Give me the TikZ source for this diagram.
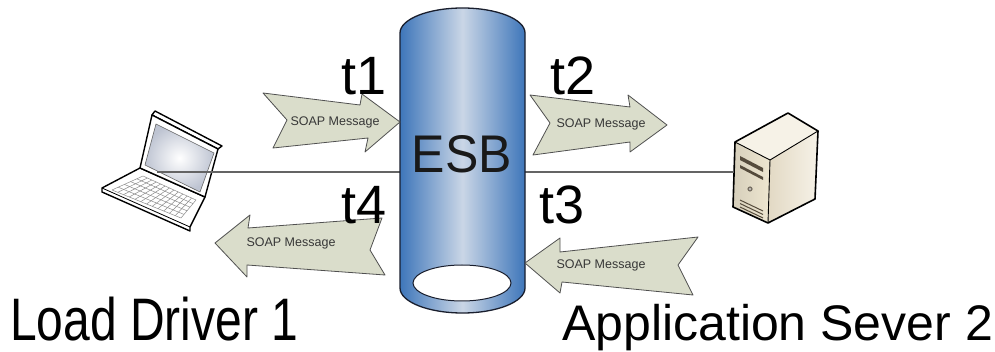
\documentclass[tikz,border=0pt]{standalone}
\usepackage{fontspec}
\setmainfont{Liberation Sans}
\usepackage{graphicx}
\usetikzlibrary{calc}

\definecolor{esbedge}{RGB}{62,118,186}
\definecolor{esbmid}{RGB}{202,214,230}
\definecolor{esbline}{RGB}{25,30,45}
\definecolor{msgfill}{RGB}{218,221,203}
\definecolor{msgline}{RGB}{80,80,80}
\definecolor{msgtext}{RGB}{55,55,55}
\definecolor{connc}{RGB}{100,100,100}
\definecolor{scr}{RGB}{190,196,210}
\definecolor{srvfront}{RGB}{238,230,208}
\definecolor{srvtop}{RGB}{246,242,231}
\definecolor{srvside}{RGB}{226,217,196}
\definecolor{srvslot}{RGB}{85,75,60}

\begin{document}
\begin{tikzpicture}[x=1pt,y=-1pt,
  msg/.style={draw=msgline, line width=0.8pt, fill=msgfill, line join=round},
  msgtext/.style={font=\fontsize{12.5}{13}\selectfont, text=msgtext, inner sep=0pt},
  tlabel/.style={font=\fontsize{54}{54}\selectfont, anchor=base west, inner sep=0pt},
  biglabel/.style={anchor=base west, inner sep=0pt},
  conn/.style={draw=connc, line width=1.5pt},
  outline/.style={draw=black, line width=1.4pt, line join=round},
  keyline/.style={draw=black!45, line width=0.5pt}]

\useasboundingbox (0,0) rectangle (995,352);
\fill[white] (0,0) rectangle (995,352);

% ---------- laptop ----------
\coordinate (P1) at (102,188);
\coordinate (P2) at (140,168);
\coordinate (P3) at (205,197);
\coordinate (P4) at (190,227);
\draw[outline, fill=white] (P1) -- (P2) -- (P3) -- (P4) -- (190,231) -- (102,192) -- cycle;
\draw[draw=black, line width=0.8pt] (P1) -- (P4);
\coordinate (K1) at (112,190);
\coordinate (K2) at (143,176);
\coordinate (K3) at (196,200);
\coordinate (K4) at (181,218);
\foreach \i in {0,...,5}
  \draw[keyline] ($(K1)!\i/5!(K2)$) -- ($(K4)!\i/5!(K3)$);
\foreach \j in {0,...,12}
  \draw[keyline] ($(K1)!\j/12!(K4)$) -- ($(K2)!\j/12!(K3)$);
% lid
\draw[outline, fill=white] (152,115) -- (155,111) -- (222,146) -- (218,149) -- cycle;
\draw[outline, fill=white] (152,115) -- (218,149) -- (205,197) -- (140,168) -- cycle;
\shade[inner color=white, outer color=scr, draw=black!60, line width=0.6pt]
  (156,124) -- (214,153) -- (200,192) -- (145,165) -- cycle;
\coordinate (lap) at (157,172);

% ---------- server ----------
\fill[srvtop] (735,142) -- (788,113) -- (818,131) -- (770,160) -- cycle;
\shade[left color=srvside, right color=srvtop] (770,160) -- (818,131) -- (815,199) -- (768,223) -- cycle;
\shade[left color=srvfront!90!black, right color=srvfront] (735,142) -- (770,160) -- (768,223) -- (733,207) -- cycle;
\draw[outline, line width=1.6pt] (735,142) -- (788,113) -- (818,131) -- (815,199) -- (768,223) -- (733,207) -- cycle;
\draw[draw=black, line width=0.9pt] (735,142) -- (770,160) -- (818,131);
\draw[draw=black, line width=0.9pt] (770,160) -- (768,223);
\fill[srvslot] (740,156) -- (763,168) -- (763,172) -- (740,160) -- cycle;
\fill[srvslot] (740,165) -- (763,177) -- (763,180) -- (740,168) -- cycle;
\fill[srvslot!80] (750,189) circle[radius=2.6];
\fill[white] (750,189) circle[radius=0.9];
\foreach \k in {0,1,2}
  \draw[draw=srvslot, line width=1pt] (740,{200+3.5*\k}) -- (763,{211+3.5*\k});
\coordinate (srv) at (734,172);

% ---------- connectors ----------
\coordinate (esbW) at (400,172);
\coordinate (esbE) at (525,172);
\draw[conn] (lap) -- (esbW);
\draw[conn] (esbE) -- (srv);

% ---------- ESB cylinder ----------
\shade[left color=esbedge, right color=esbedge, middle color=esbmid, draw=esbline, line width=1.3pt]
  (525,33) .. controls (525,19.2) and (497,8) .. (462.5,8)
  .. controls (428,8) and (400,19.2) .. (400,33)
  -- (400,288) .. controls (400,301.8) and (428,313) .. (462.5,313)
  .. controls (497,313) and (525,301.8) .. (525,288) -- cycle;
\draw[fill=white, draw=esbline, line width=1pt] (462,283) ellipse[x radius=49, y radius=18];
\node[anchor=base, inner sep=0pt, font=\fontsize{50}{50}\selectfont, text=black!90] (esb) at (462,173)
  {\scalebox{1}[1.06]{ESB}};

% ---------- message arrows ----------
\draw[msg] (263,93) -- (360,105) -- (362,94) -- (400,122) -- (365,152) -- (368,138) -- (273,148) -- (287,120) -- cycle;
\node[msgtext] (m1) at (335,122) {SOAP Message};
\draw[msg] (530,95) -- (630,107) -- (628,95) -- (667,125) -- (630,152) -- (630,142) -- (533,155) -- (550,123) -- cycle;
\node[msgtext] (m2) at (601,124) {SOAP Message};
\draw[msg] (215,243) -- (250,215) -- (248,228) -- (382,218) -- (370,250) -- (385,275) -- (247,265) -- (247,277) -- cycle;
\node[msgtext] (m4) at (291,243) {SOAP Message};
\draw[msg] (525,263) -- (560,238) -- (560,252) -- (698,237) -- (678,265) -- (693,295) -- (562,282) -- (560,293) -- cycle;
\node[msgtext] (m3) at (601,265) {SOAP Message};

% ---------- time stamps ----------
\node[tlabel] (t1) at (341,95) {t1};
\node[tlabel] (t2) at (550,95) {t2};
\node[tlabel] (t3) at (539,224) {t3};
\node[tlabel] (t4) at (341,224) {t4};

% ---------- endpoint labels ----------
\node[biglabel] (ld) at (10,341) {\scalebox{1}[1.25]{\fontsize{48}{48}\selectfont Load Driver 1}};
\node[biglabel] (as) at (562,340) {\fontsize{50}{50}\selectfont Application Sever 2};
\end{tikzpicture}
\end{document}
